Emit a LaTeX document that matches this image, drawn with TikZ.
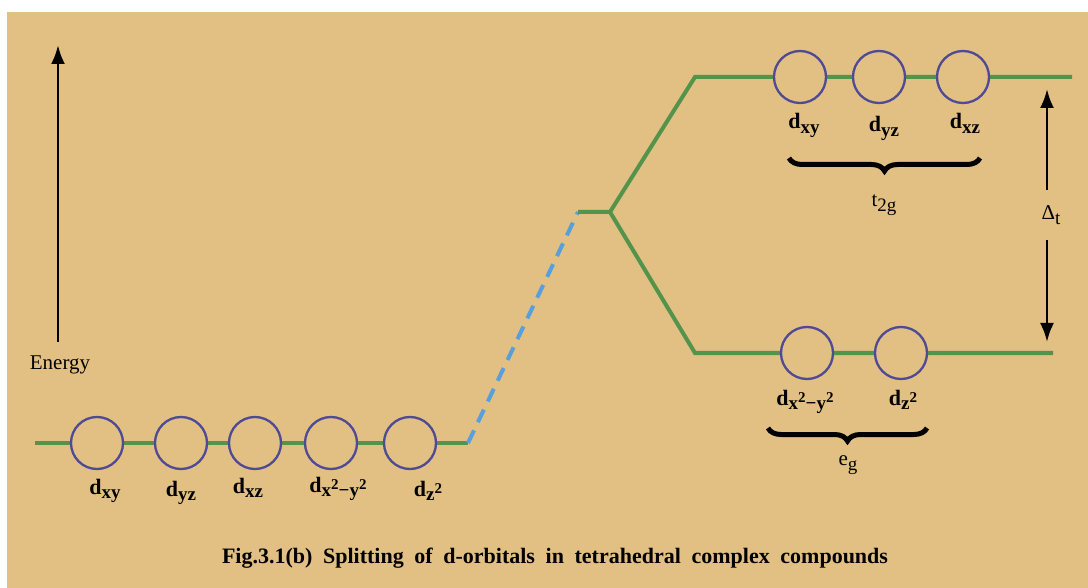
\documentclass[tikz,border=0pt]{standalone}
\usepackage{fontspec}
\setmainfont{Liberation Serif}
\usetikzlibrary{decorations.pathreplacing,arrows.meta}
\definecolor{bg}{RGB}{226,191,131}
\definecolor{lvl}{RGB}{84,148,74}
\definecolor{orb}{RGB}{78,74,150}
\definecolor{dashblue}{RGB}{88,160,220}
\newcommand{\lo}[1]{\raisebox{-0.45ex}{\fontsize{19}{19}\selectfont #1}}
\newcommand{\hi}[1]{\raisebox{0.8ex}{\fontsize{15}{15}\selectfont #1}}
\tikzset{
  level/.style={draw=lvl, line width=4pt},
  orbital/.style={circle, draw=orb, line width=2.3pt, fill=bg, minimum size=52pt, inner sep=0pt},
  lbl/.style={font=\fontsize{22}{22}\selectfont\bfseries, inner sep=0pt, anchor=base},
  grp/.style={draw=black, line width=5pt, decorate, decoration={brace, amplitude=13pt}},
  arr/.style={draw=black, line width=2.8pt, -{Latex[length=19pt,width=14pt]}},
  txt/.style={font=\fontsize{21}{21}\selectfont, inner sep=0pt}
}
\begin{document}
\begin{tikzpicture}[x=1pt,y=-1pt]
\useasboundingbox (0,0) rectangle (1088,588);
\fill[white] (0,0) rectangle (1088,588);
\fill[bg] (7,12) rectangle (1088,588);

% energy axis
\coordinate (etop) at (58,45);
\node[txt, minimum height=46pt] (energy) at (60,365) {Energy};
\draw[arr] (energy.north -| etop) -- (etop);

% level coordinates
\coordinate (L0) at (35,443);
\coordinate (L1) at (468,443);
\coordinate (J0) at (578,212);
\coordinate (J1) at (610,212);
\coordinate (U0) at (695,77);
\coordinate (U1) at (1072,77);
\coordinate (D0) at (695,353);
\coordinate (D1) at (1053,353);

\draw[level] (L0) -- (L1);
\draw[draw=dashblue, line width=4pt, dash pattern=on 14pt off 9pt] (L1) -- (J0);
\draw[level, line join=miter] (J0) -- (J1) -- (U0) -- (U1);
\draw[level, line join=miter] (J1) -- (D0) -- (D1);

% left orbitals
\node[orbital] (a1) at (97,443) {};
\node[orbital] (a2) at (181,443) {};
\node[orbital] (a3) at (255,443) {};
\node[orbital] (a4) at (331,443) {};
\node[orbital] (a5) at (410,443) {};
\node[lbl] at (105,494) {d\lo{xy}};
\node[lbl] at (181,496) {d\lo{yz}};
\node[lbl] at (248,493) {d\lo{xz}};
\node[lbl] at (338,492) {d\lo{x\hi{2}−y\hi{2}}};
\node[lbl] at (428,496) {d\lo{z\hi{2}}};

% upper orbitals
\node[orbital] (t1) at (800,77) {};
\node[orbital] (t2) at (879,77) {};
\node[orbital] (t3) at (963,77) {};
\node[lbl] at (804,129) {d\lo{xy}};
\node[lbl] at (884,132) {d\lo{yz}};
\node[lbl] at (965,129) {d\lo{xz}};
\coordinate (b1r) at (980,158);
\coordinate (b1l) at (789,158);
\draw[grp] (b1r) -- (b1l);
\node[txt] (t2g) at (884,205) {t\lo{2g}};

% lower orbitals
\node[orbital] (e1) at (807,353) {};
\node[orbital] (e2) at (901,353) {};
\node[lbl] at (805,405) {d\lo{x\hi{2}−y\hi{2}}};
\node[lbl] at (903,405) {d\lo{z\hi{2}}};
\coordinate (b2r) at (927,428);
\coordinate (b2l) at (768,428);
\draw[grp] (b2r) -- (b2l);
\node[txt] (eg) at (848,465) {e\lo{g}};

% splitting arrow
\coordinate (dtop) at (1047,89);
\coordinate (dbot) at (1047,342);
\node[txt, minimum height=50pt] (delta) at (1051,215) {Δ\lo{t}};
\draw[arr] (delta.north -| dtop) -- (dtop);
\draw[arr] (delta.south -| dbot) -- (dbot);

% caption
\node[font=\fontsize{22}{22}\selectfont\bfseries, inner sep=0pt] (cap) at (555,558)
  {\makebox[666pt][s]{Fig.3.1(b) Splitting of d-orbitals in tetrahedral complex compounds}};
\end{tikzpicture}
\end{document}
